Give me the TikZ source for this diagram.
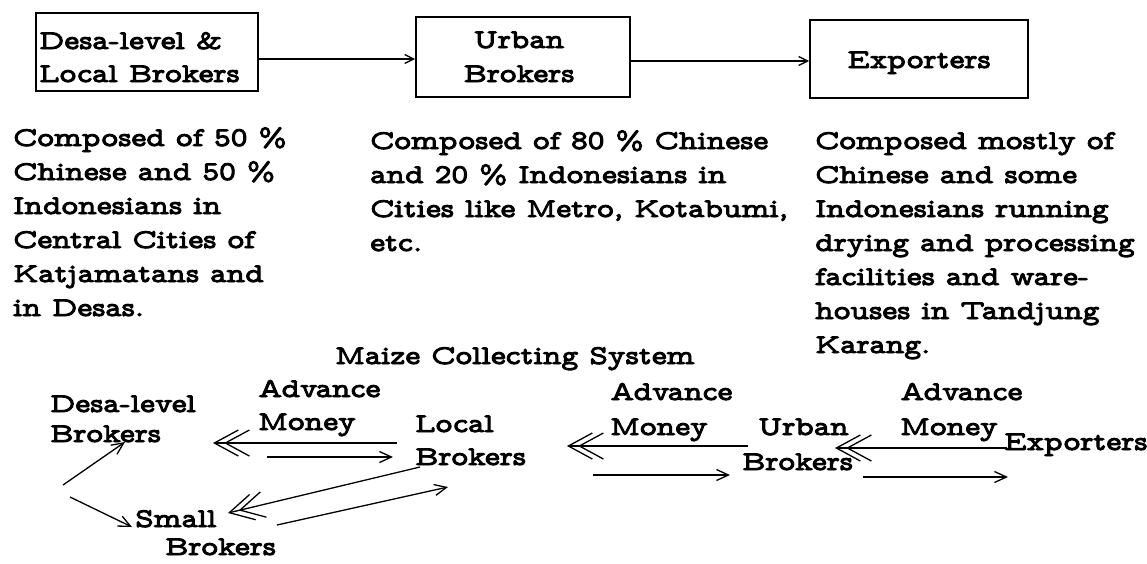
\documentclass[tikz,border=0pt]{standalone}
\usepackage{fontspec}
\newfontfamily\tw{lmmonoprop10-regular.otf}[FakeBold=3.5, FakeStretch=1.18]
\usetikzlibrary{arrows.meta}

\begin{document}
\begin{tikzpicture}[x=1pt, y=-1pt,
  txt/.style={inner sep=0pt, anchor=base west, align=left,
              font=\tw\fontsize{27}{34}\selectfont},
  ctxt/.style={inner sep=0pt, anchor=base, align=center,
              font=\tw\fontsize{27}{34}\selectfont},
  lbl/.style={txt, font=\tw\fontsize{27}{#1}\selectfont},
  frame/.style={draw, line width=1.8pt, inner sep=0pt},
  link/.style={line width=1.3pt},
  tarrow/.style={link, -{Straight Barb[length=9pt,width=9pt]}},
  sgl/.style={link, -{Straight Barb[length=12pt,width=11pt]}},
  dbl/.style={link, -{Straight Barb[length=24pt,width=26pt,sep=-15pt]Straight Barb[length=24pt,width=26pt]}}
]
\useasboundingbox (0,0) rectangle (1147,563);

% --- boxes of the upper chain ---
\node[frame, minimum width=222pt, minimum height=78pt] (b1) at (147,52) {};
\node[frame, minimum width=214pt, minimum height=80pt] (b2) at (523,57) {};
\node[frame, minimum width=218pt, minimum height=78pt] (b3) at (919,59) {};

% multi-line texts are placed by the baseline of their last line
\node[lbl=33pt] (b1t) at (39,82) {Desa-level \&\\Local Brokers};
\node[ctxt] (b2t) at (519,82) {Urban\\Brokers};
\node[ctxt] (b3t) at (919,68) {Exporters};

\draw[tarrow] ([yshift=-7pt]b1.east) -- ([yshift=-2pt]b2.west);
\draw[tarrow] ([yshift=-4pt]b2.east) -- ([yshift=-2pt]b3.west);

% --- descriptions ---
\node[txt] (c1) at (13,316) {Composed of 50 \%\\Chinese and 50 \%\\Indonesians in\\Central Cities of\\Katjamatans and\\in Desas.};
\node[txt] (c2) at (370,251) {Composed of 80 \% Chinese\\and 20 \% Indonesians in\\Cities like Metro, Kotabumi,\\etc.};
\node[txt] (c3) at (815,353) {Composed mostly of\\Chinese and some\\Indonesians running\\drying and processing\\facilities and ware-\\houses in Tandjung\\Karang.};

\node[txt] (title) at (335,364) {Maize Collecting System};

% --- collecting system ---
\node[lbl=30pt] (dl) at (50,442) {Desa-level\\Brokers};
\node[lbl=33pt] (am1) at (258,430) {Advance\\Money};
\node[lbl=33pt] (lb) at (415,465) {Local\\Brokers};
\node[lbl=35pt] (am2) at (610,435) {Advance\\Money};
\node[lbl=35pt] (ub) at (742,470) {\hspace*{16pt}Urban\\Brokers};
\node[lbl=35pt] (am3) at (900,435) {Advance\\Money};
\node[txt] (ex) at (1004,450) {Exporters};
\node[lbl=28pt] (sb) at (135,555) {Small\\\hspace*{30pt}Brokers};

\coordinate (fork) at (66,491);

\draw[dbl] ([shift={(-18,-22)}]lb.base west) -- ([shift={(163,1)}]dl.base west);
\draw[sgl] ([shift={(217,15)}]dl.base west) -- ([shift={(-22,-8)}]lb.base west);

\draw[sgl] ([shift={(-3,-6)}]fork) -- ([shift={(75,0)}]dl.base west);
\draw[sgl] ([shift={(4,6)}]fork) -- ([shift={(-3,-28)}]sb.base west);

\draw[dbl] ([shift={(5,2)}]lb.base west) -- ([shift={(93,-42)}]sb.base west);
\draw[sgl] ([shift={(142,-30)}]sb.base west) -- ([shift={(33,22)}]lb.base west);

\draw[dbl] ([shift={(6,-24)}]ub.base west) -- ([shift={(152,-19)}]lb.base west);
\draw[sgl] ([shift={(178,10)}]lb.base west) -- ([shift={(-12,5)}]ub.base west);

\draw[dbl] ([shift={(3,-2)}]ex.base west) -- ([shift={(93,-22)}]ub.base west);
\draw[sgl] ([shift={(121,7)}]ub.base west) -- ([shift={(4,27)}]ex.base west);
\end{tikzpicture}
\end{document}
